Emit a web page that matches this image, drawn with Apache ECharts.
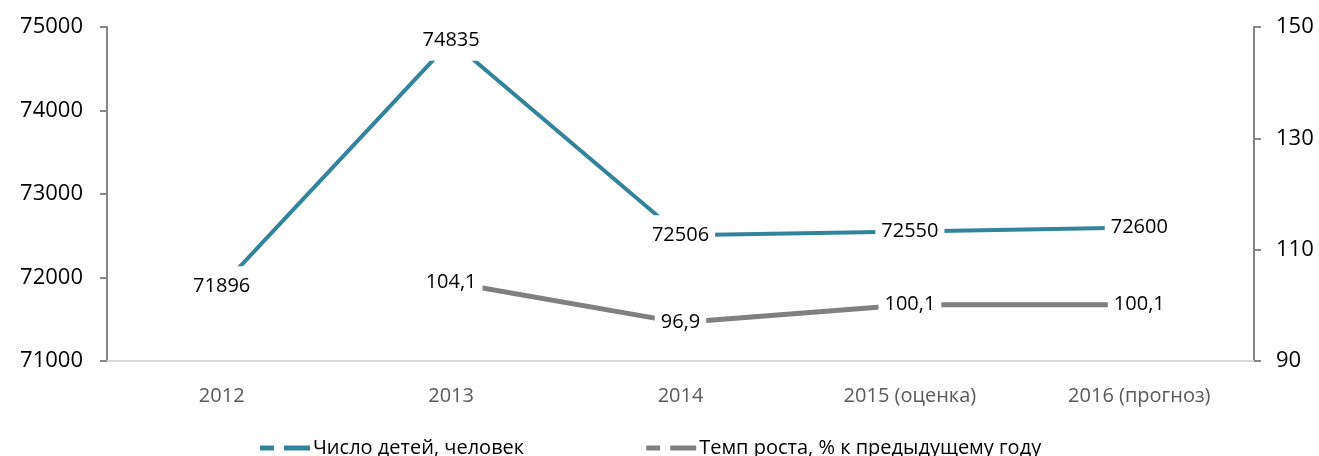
<!DOCTYPE html>
<html>
<head>
<meta charset="utf-8">
<script src="https://cdn.jsdelivr.net/npm/echarts@6/dist/echarts.min.js"></script>
<style>
  html, body { margin: 0; padding: 0; background: #fff; }
  #chart { width: 1319px; height: 456px; }
</style>
</head>
<body>
<div id="chart"></div>
<script>
var years = ['2012', '2013', '2014', '2015 (оценка)', '2016 (прогноз)'];
var children = [71896, 74835, 72506, 72550, 72600];
var growth = [null, 104.1, 96.9, 100.1, 100.1];
var seriesNames = ['Число детей, человек', 'Темп роста, % к предыдущему году'];
var colors = ['#31849b', '#808080'];

var font = '"Open Sans", "Noto Sans", sans-serif';
var dashIcon = 'path://M0,0h14v5h-14z M24,0h26v5h-26z';

var myChart = echarts.init(document.getElementById('chart'));

// подпись с белой подложкой поверх линии
function pointLabel(fmt) {
  return {
    show: true,
    position: 'inside',
    color: '#000',
    opacity: 1,
    fontSize: 20,
    fontFamily: font,
    backgroundColor: '#fff',
    padding: [10, 6],
    formatter: fmt
  };
}

var option = {
  animation: false,
  textStyle: { fontFamily: font },
  grid: { left: 107, right: 65, top: 27, bottom: 95 },
  legend: {
    top: 433,
    left: 255,
    itemGap: 122,
    itemWidth: 54,
    itemHeight: 5,
    textStyle: { fontSize: 20, color: '#000', fontFamily: font, padding: [0, 0, 0, -4] },
    data: [
      { name: seriesNames[0], icon: dashIcon, itemStyle: { color: colors[0], opacity: 1 } },
      { name: seriesNames[1], icon: dashIcon, itemStyle: { color: colors[1], opacity: 1 } }
    ]
  },
  xAxis: {
    type: 'category',
    data: years,
    boundaryGap: true,
    axisLine: { lineStyle: { color: '#d9d9d9', width: 2 } },
    axisTick: { show: false },
    axisLabel: { color: '#595959', fontSize: 20, margin: 25 }
  },
  yAxis: [
    {
      type: 'value',
      min: 71000, max: 75000, interval: 1000,
      splitLine: { show: false },
      axisLine: { show: true, lineStyle: { color: '#868686', width: 2 } },
      axisTick: { show: true, inside: false, length: 7, lineStyle: { color: '#868686', width: 2 } },
      axisLabel: { color: '#000', fontSize: 22, margin: 24, formatter: function (v) { return String(v); } }
    },
    {
      type: 'value',
      min: 90, max: 150, interval: 20,
      position: 'right',
      splitLine: { show: false },
      axisLine: { show: true, lineStyle: { color: '#868686', width: 2 } },
      axisTick: { show: true, inside: false, length: 7, lineStyle: { color: '#868686', width: 2 } },
      axisLabel: { color: '#000', fontSize: 22, margin: 22 }
    }
  ],
  series: [
    {
      name: seriesNames[0],
      type: 'line',
      data: children,
      symbol: 'circle',
      symbolSize: 2,
      showSymbol: true,
      itemStyle: { color: 'rgba(0,0,0,0)' },
      lineStyle: { color: colors[0], width: 4 },
      label: pointLabel(function (p) { return String(p.value); }),
      labelLayout: { hideOverlap: false },
      z: 3
    },
    {
      name: seriesNames[1],
      type: 'line',
      yAxisIndex: 1,
      data: growth,
      symbol: 'circle',
      symbolSize: 2,
      showSymbol: true,
      itemStyle: { color: 'rgba(0,0,0,0)' },
      lineStyle: { color: colors[1], width: 5 },
      label: pointLabel(function (p) { return String(p.value).replace('.', ','); }),
      labelLayout: { hideOverlap: false },
      z: 2
    }
  ]
};

myChart.setOption(option);
</script>
</body>
</html>
